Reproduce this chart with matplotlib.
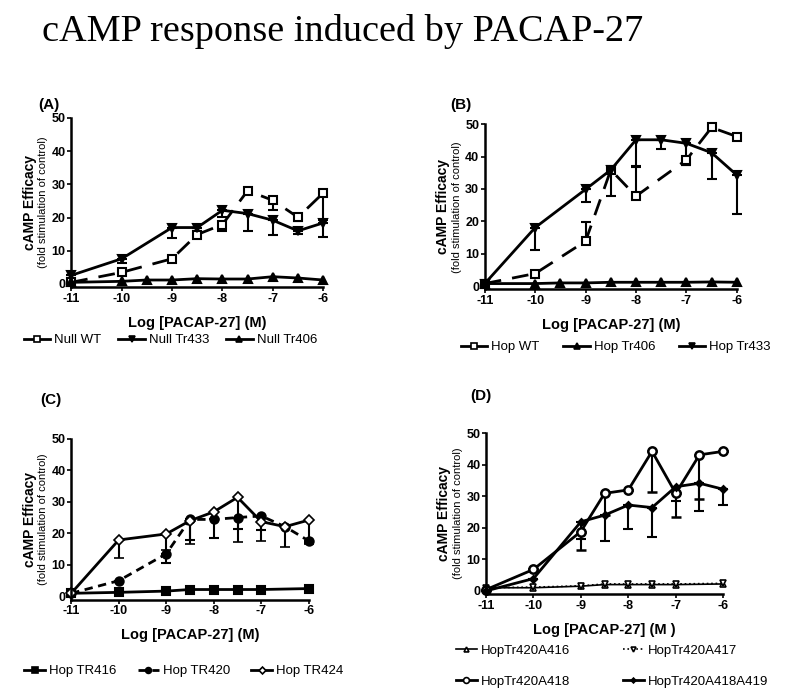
import numpy as np
import matplotlib
matplotlib.use("Agg")
import matplotlib.pyplot as plt
from matplotlib.lines import Line2D

plt.rcParams['font.family'] = ['Liberation Sans', 'DejaVu Sans']

# ---- data ----
x_full = [-11, -10, -9, -8.5, -8, -7.5, -7, -6.5, -6]
x_406 = [-11, -10, -9.5, -9, -8.5, -8, -7.5, -7, -6.5, -6]
x_short = [-11, -10, -9, -8.5, -8, -7.5, -7, -6]
x_wt_b = [-11, -10, -9, -8.5, -8, -7, -6.5, -6]

# panel A
null_wt = [0.5, 3.5, 7.6, 14.9, 17.9, 28.1, 25.2, 20.1, 27.4]
null_wt_err = [0, 0, 0, 0, 2, 0, 3, 1, 8]
null_tr433 = [2.6, 7.6, 17, 17, 22.2, 21.2, 19.2, 16, 18.4]
null_tr433_err = [0, 1.3, 3, 0, 2, 5.3, 4.5, 1, 4.2]
null_tr406 = [0.5, 0.8, 1.2, 1.2, 1.6, 1.5, 1.5, 2.2, 1.8, 1.2]

# panel B
hop_wt = [0.8, 3.9, 13.9, 35.9, 27.8, 39, 49, 46.2]
hop_wt_up = [0, 0, 6, 0, 9, 0, 0, 0]
hop_wt_dn = [0, 0, 0, 0, 0, 1.5, 0, 0]
hop_tr433 = [0.8, 18.1, 29.9, 35.9, 45.2, 45.2, 44.1, 41.2, 34.3]
hop_tr433_err = [0, 7, 4, 8, 8, 3, 6.7, 8, 12]
hop_tr406 = [0.8, 0.8, 1, 1, 1.2, 1.2, 1.2, 1.2, 1.3, 1.2]

# panel C
tr416 = [1, 1.3, 1.7, 2.2, 2.2, 2.2, 2.2, 2.5]
tr420 = [1, 5, 13.5, 24.4, 24.4, 25, 25.5, 22.1, 17.6]
tr420_err = [0, 0, 3, 6.5, 6, 3.5, 4.5, 0, 0.8]
tr424 = [1, 17.9, 19.8, 24, 26.8, 31.4, 23.7, 22.1, 24.2]
tr424_err = [0, 5.8, 5, 7.5, 0, 14, 6, 6.3, 7.5]

# panel D
a416 = [1, 1, 1.5, 2, 2, 2, 2, 2.2]
a417 = [1, 1.2, 1.6, 2.2, 2.2, 2.2, 2.2, 2.4]
a418 = [0.4, 6.8, 18.8, 30.9, 32, 44.2, 30.9, 43.1, 44.2]
a418_err = [0, 0, 5.7, 7, 0, 13, 7.6, 14, 0]
a419 = [0, 3.9, 21.9, 24, 27.2, 26.4, 33, 34.1, 32.2]
a419_err = [0, 0, 5.5, 8.3, 7.5, 9.4, 4.6, 8.7, 5]

xticks = [-11, -10, -9, -8, -7, -6]
yticks = [0, 10, 20, 30, 40, 50]

fig = plt.figure(figsize=(8, 6.94), dpi=100)
fig.text(0.428, 0.955, "cAMP response induced by PACAP-27", family='Liberation Serif',
         fontsize=27.5, ha='center', va='center')


def setup(rect, label, label_xy, xlab="Log [PACAP-27] (M)"):
    ax = fig.add_axes(rect)
    ax.set_xlim(-11, -6)
    ax.set_ylim(-1, 50)
    ax.spines['top'].set_visible(False)
    ax.spines['right'].set_visible(False)
    ax.spines['left'].set_linewidth(1.8)
    ax.spines['bottom'].set_linewidth(1.8)
    ax.set_xticks(xticks)
    ax.set_yticks(yticks)
    ax.set_xticklabels([str(t) for t in xticks], fontweight='bold', fontsize=9)
    ax.set_yticklabels([str(t) for t in yticks], fontweight='bold', fontsize=9)
    ax.tick_params(length=3, width=1.2, pad=1)
    ax.set_xlabel(xlab, fontweight='bold', fontsize=10.5, labelpad=8)
    ax.annotate("cAMP Efficacy", xy=(0, 0.5), xycoords='axes fraction',
                xytext=(-30, 0), textcoords='offset points', rotation=90,
                ha='center', va='center', fontweight='bold', fontsize=10)
    ax.annotate("(fold stimulation of control)", xy=(0, 0.5), xycoords='axes fraction',
                xytext=(-20, 0), textcoords='offset points', rotation=90,
                ha='center', va='center', fontsize=8)
    fig.text(label_xy[0], label_xy[1], label, fontweight='bold', fontsize=11,
             ha='left', va='center')
    return ax


def series(ax, x, y, marker, ls, err=None, up=None, mfc='black', ms=6, lw=2, mew=1.5,
           leg_ls=None):
    n = len(x)
    yerr = None
    if err is not None or up is not None:
        lo = err if err is not None else np.zeros(n)
        hi = up if up is not None else np.zeros(n)
        yerr = [lo, hi]
    ax.errorbar(x, y, yerr=yerr, fmt=marker, ls=ls, color='black', lw=lw, ms=ms,
                mfc=mfc, mew=mew, clip_on=False, capsize=3.5, elinewidth=1.5,
                capthick=1.5)
    return Line2D([], [], color='black', marker=marker, ls=leg_ls or ls, lw=lw,
                  ms=ms * 0.7, mfc=mfc, mew=1.2)


dash = (0, (6, 4))

# ---- (A) ----
axA = setup([0.089, 0.586, 0.315, 0.244], "(A)", (0.048, 0.849))
h = [series(axA, x_full, null_wt, 's', dash, err=null_wt_err, mfc='white', leg_ls='-'),
     series(axA, x_full, null_tr433, 'v', '-', err=null_tr433_err),
     series(axA, x_406, null_tr406, '^', '-')]
axA.legend(h, ['Null WT', 'Null Tr433', 'Null Tr406'], loc='center',
           bbox_to_anchor=(0.213, 0.51), bbox_transform=fig.transFigure,
           ncol=3, frameon=False, fontsize=9.5, handlelength=2, columnspacing=1.3,
           handletextpad=0.3)

# ---- (B) ----
axB = setup([0.606, 0.583, 0.315, 0.238], "(B)", (0.563, 0.849))
h = [series(axB, x_wt_b, hop_wt, 's', dash, err=hop_wt_dn, up=hop_wt_up, mfc='white',
            leg_ls='-'),
     series(axB, x_406, hop_tr406, '^', '-'),
     series(axB, x_full, hop_tr433, 'v', '-', err=hop_tr433_err)]
axB.legend(h, ['Hop WT', 'Hop Tr406', 'Hop Tr433'], loc='center',
           bbox_to_anchor=(0.77, 0.5), bbox_transform=fig.transFigure,
           ncol=3, frameon=False, fontsize=9.5, handlelength=2, columnspacing=1.8,
           handletextpad=0.3)

# ---- (C) ----
axC = setup([0.089, 0.136, 0.297, 0.232], "(C)", (0.05, 0.423))
h = [series(axC, x_short, tr416, 's', '-'),
     series(axC, x_full, tr420, 'o', (0, (3, 2)), err=tr420_err),
     series(axC, x_full, tr424, 'D', '-', err=tr424_err, mfc='white', ms=5, mew=1.2)]
axC.legend(h, ['Hop TR416', 'Hop TR420', 'Hop TR424'], loc='center',
           bbox_to_anchor=(0.23, 0.033), bbox_transform=fig.transFigure,
           ncol=3, frameon=False, fontsize=9.5, handlelength=1.6, columnspacing=1.6,
           handletextpad=0.3)

# ---- (D) ----
axD = setup([0.6075, 0.144, 0.2965, 0.232], "(D)", (0.588, 0.43),
            xlab="Log [PACAP-27] (M )")
h416 = series(axD, x_short, a416, '^', '-', mfc='white', ms=5, lw=1.2, mew=1.2)
h417 = series(axD, x_short, a417, 'v', ':', mfc='white', ms=5, lw=1.2, mew=1.2)
h418 = series(axD, x_full, a418, 'o', '-', err=a418_err, mfc='white', mew=1.8)
h419 = series(axD, x_full, a419, 'D', '-', err=a419_err, ms=3.5)
axD.legend([h416, h418, h417, h419], ['HopTr420A416', 'HopTr420A418', 'HopTr420A417',
                                      'HopTr420A418A419'],
           loc='center', bbox_to_anchor=(0.765, 0.04), bbox_transform=fig.transFigure,
           ncol=2, frameon=False, fontsize=9.5, handlelength=1.6, columnspacing=4,
           labelspacing=1.4, handletextpad=0.3)

fig.savefig("out.png", dpi=100)
